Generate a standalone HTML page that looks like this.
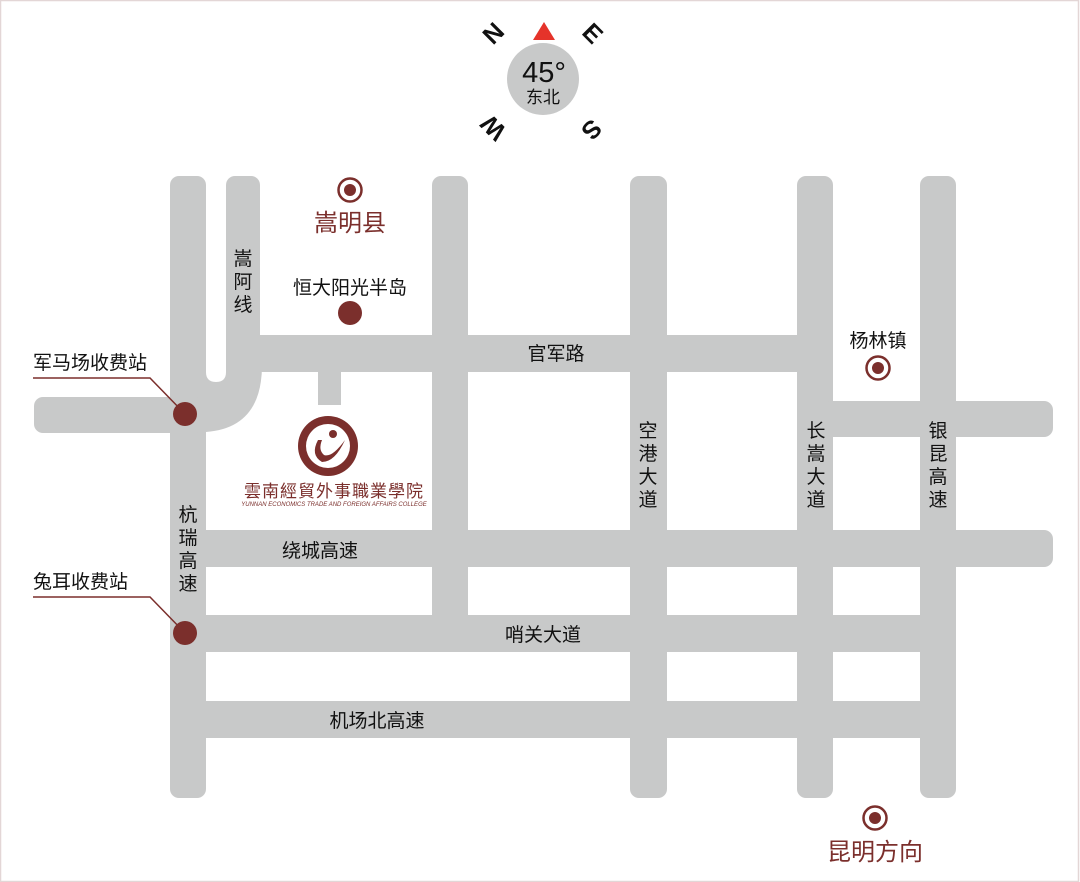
<!DOCTYPE html>
<html><head><meta charset="utf-8"><style>
html,body{margin:0;padding:0;background:#fff;}
svg{display:block;}
text{font-family:"Liberation Sans","Noto Sans CJK SC",sans-serif;}
</style></head><body>
<svg width="1080" height="882" viewBox="0 0 1080 882" xmlns="http://www.w3.org/2000/svg">
<rect x="0.5" y="0.5" width="1078" height="881" fill="#fff" stroke="#e3d6d6" stroke-width="1.5"/>
<g fill="#c8c9c9">
<rect x="170" y="176" width="36" height="622" rx="9"/>
<rect x="226" y="176" width="34" height="210" rx="9"/>
<rect x="432" y="176" width="36" height="476" rx="9"/>
<rect x="630" y="176" width="37" height="622" rx="9"/>
<rect x="797" y="176" width="36" height="622" rx="9"/>
<rect x="920" y="176" width="36" height="622" rx="9"/>
<rect x="226" y="335" width="607" height="37"/>
<rect x="34" y="397" width="172" height="36" rx="9"/>
<rect x="820" y="401" width="233" height="36" rx="9"/>
<rect x="170" y="530" width="883" height="37" rx="9"/>
<rect x="170" y="615" width="786" height="37"/>
<rect x="170" y="701" width="786" height="37"/>
<rect x="318" y="365" width="23" height="40"/>
<path d="M200 365 L262 365 Q262 428 206 432 L200 432 Z"/>
</g>
<path d="M206 176 L226 176 L226 372 Q226 382 216 382 Q206 382 206 372 Z" fill="#fff"/>
<polyline points="33,378 150,378 185,414" fill="none" stroke="#7b2f2c" stroke-width="1.5"/>
<polyline points="33,597 150,597 185,633" fill="none" stroke="#7b2f2c" stroke-width="1.5"/>
<g fill="#7b2f2c">
<circle cx="185" cy="414" r="12"/>
<circle cx="185" cy="633" r="12"/>
<circle cx="350" cy="313" r="12"/>
</g>
<g fill="none" stroke="#7b2f2c" stroke-width="2.5">
<circle cx="350" cy="190" r="11.5"/>
<circle cx="878" cy="368" r="11.5"/>
<circle cx="875" cy="818" r="11.5"/>
</g>
<g fill="#7b2f2c">
<circle cx="350" cy="190" r="6"/>
<circle cx="878" cy="368" r="6"/>
<circle cx="875" cy="818" r="6"/>
</g>
<circle cx="543" cy="79" r="36" fill="#c8c9c9"/>
<polygon points="544,22 555,40 533,40" fill="#e5332a"/>
<text x="544" y="82" font-size="29" text-anchor="middle" fill="#111">45°</text>
<text x="543" y="103" font-size="17" text-anchor="middle" fill="#111">东北</text>
<g font-size="25" font-weight="bold" fill="#111" text-anchor="middle">
<text transform="translate(493,33) rotate(-45)" y="9">N</text>
<text transform="translate(593,33) rotate(45)" y="9">E</text>
<text transform="translate(493,128) rotate(225)" y="9">W</text>
<text transform="translate(592,130) rotate(135)" y="9">S</text>
</g>
<circle cx="328" cy="446" r="30" fill="#7b2f2c"/>
<circle cx="328" cy="446" r="22" fill="#fff"/>
<path d="M318 440 Q310 455 322 462 Q335 462 345 440 Q332 458 324 455 Q318 450 322 440 Z" fill="#7b2f2c"/>
<circle cx="333" cy="434" r="4" fill="#7b2f2c"/>
<text x="334" y="497" font-size="17" text-anchor="middle" fill="#7b2f2c" font-family="'Noto Serif CJK SC',serif" letter-spacing="1">雲南經貿外事職業學院</text>
<text x="334" y="506" font-size="6" text-anchor="middle" fill="#7b2f2c" font-family="'Liberation Serif',serif" font-style="italic">YUNNAN ECONOMICS TRADE AND FOREIGN AFFAIRS COLLEGE</text>
<g font-size="19" fill="#111">
<text x="33" y="369">军马场收费站</text>
<text x="33" y="588">兔耳收费站</text>
<text x="350" y="294" text-anchor="middle">恒大阳光半岛</text>
<text x="556" y="360" text-anchor="middle">官军路</text>
<text x="878" y="347" text-anchor="middle">杨林镇</text>
<text x="320" y="557" text-anchor="middle">绕城高速</text>
<text x="543" y="641" text-anchor="middle">哨关大道</text>
<text x="377" y="727" text-anchor="middle">机场北高速</text>
<g text-anchor="middle">
<text x="243" y="265">嵩</text><text x="243" y="288">阿</text><text x="243" y="311">线</text>
<text x="648" y="437">空</text><text x="648" y="460">港</text><text x="648" y="483">大</text><text x="648" y="506">道</text>
<text x="816" y="437">长</text><text x="816" y="460">嵩</text><text x="816" y="483">大</text><text x="816" y="506">道</text>
<text x="938" y="437">银</text><text x="938" y="460">昆</text><text x="938" y="483">高</text><text x="938" y="506">速</text>
<text x="188" y="521">杭</text><text x="188" y="544">瑞</text><text x="188" y="567">高</text><text x="188" y="590">速</text>
</g>
</g>
<text x="350" y="231" font-size="24" text-anchor="middle" fill="#7b2f2c">嵩明县</text>
<text x="875" y="860" font-size="24" text-anchor="middle" fill="#7b2f2c">昆明方向</text>
</svg>
</body></html>
